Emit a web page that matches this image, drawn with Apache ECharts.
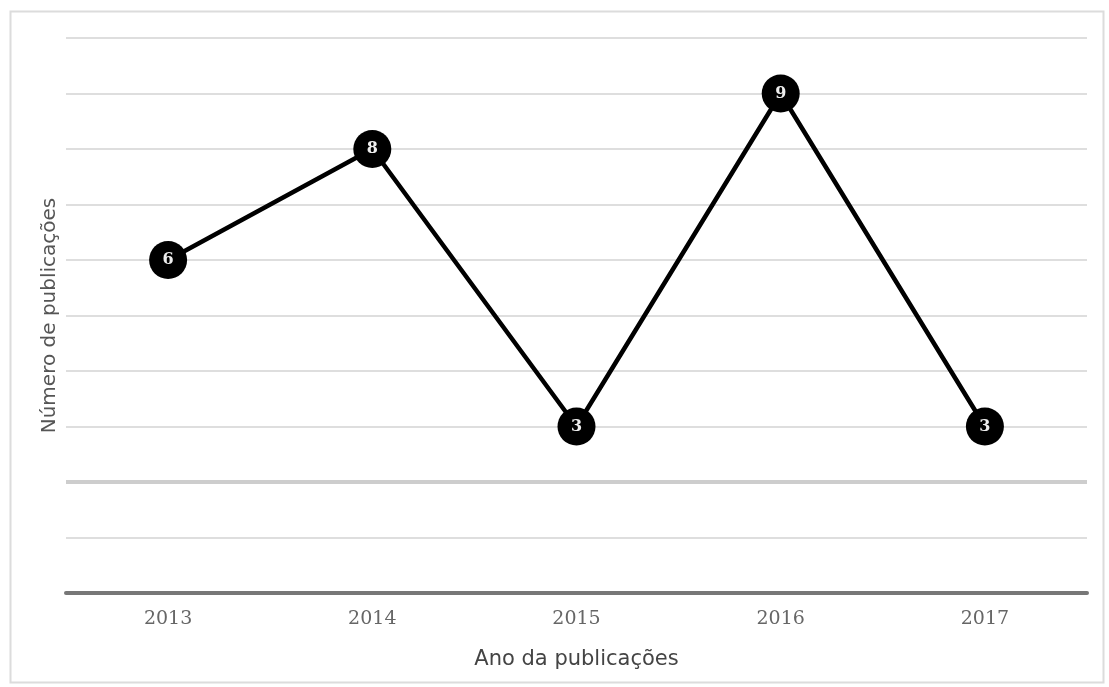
<!DOCTYPE html>
<html><head><meta charset="utf-8">
<script src="https://cdn.jsdelivr.net/npm/echarts@6/dist/echarts.min.js"></script>
<style>html,body{margin:0;padding:0;background:#fff}#c{width:1109px;height:687px}</style>
</head><body><div id="c"></div>
<script>
const categories = ['2013', '2014', '2015', '2016', '2017'];
const values = [6, 8, 3, 9, 3];
const xAxisName = 'Ano da publicações';
const yAxisName = 'Número de publicações';

const chart = echarts.init(document.getElementById('c'));
chart.setOption({
  animation: false,
  backgroundColor: '#fff',
  graphic: [{
    type: 'rect', left: 8, top: 9,
    shape: { width: 1093, height: 671 },
    style: { fill: 'none', stroke: '#dcdcdc', lineWidth: 2 }
  }],
  grid: { left: 66, right: 22, top: 38, bottom: 94 },
  xAxis: {
    type: 'category', data: categories, boundaryGap: true,
    name: xAxisName, nameLocation: 'middle', nameGap: 56,
    nameTextStyle: { fontFamily: 'DejaVu Sans', fontSize: 21, color: '#444' },
    axisLine: { lineStyle: { color: '#777', width: 4 } },
    axisTick: { show: false },
    axisLabel: { fontFamily: 'DejaVu Serif', fontSize: 19, color: '#666', margin: 17 }
  },
  yAxis: {
    type: 'value', min: 0, max: 10, interval: 1,
    name: yAxisName, nameLocation: 'middle', nameGap: 6,
    nameTextStyle: { fontFamily: 'DejaVu Sans', fontSize: 20, color: '#555' },
    axisLabel: { show: false }, axisTick: { show: false }, axisLine: { show: false },
    splitLine: { lineStyle: { color: '#dedede', width: 2 } }
  },
  series: [{
    type: 'line', data: values,
    lineStyle: { color: '#000', width: 4.5 },
    itemStyle: { color: '#000' },
    symbol: 'circle', symbolSize: 38,
    label: { show: true, position: 'inside', color: '#eee',
      fontFamily: 'DejaVu Serif', fontWeight: 'bold', fontSize: 16 },
    markLine: {
      silent: true, symbol: 'none', label: { show: false },
      lineStyle: { color: '#cdcdcd', width: 4, type: 'solid' },
      data: [{ yAxis: 2 }], z: 1
    },
    z: 3
  }]
});
</script></body></html>
